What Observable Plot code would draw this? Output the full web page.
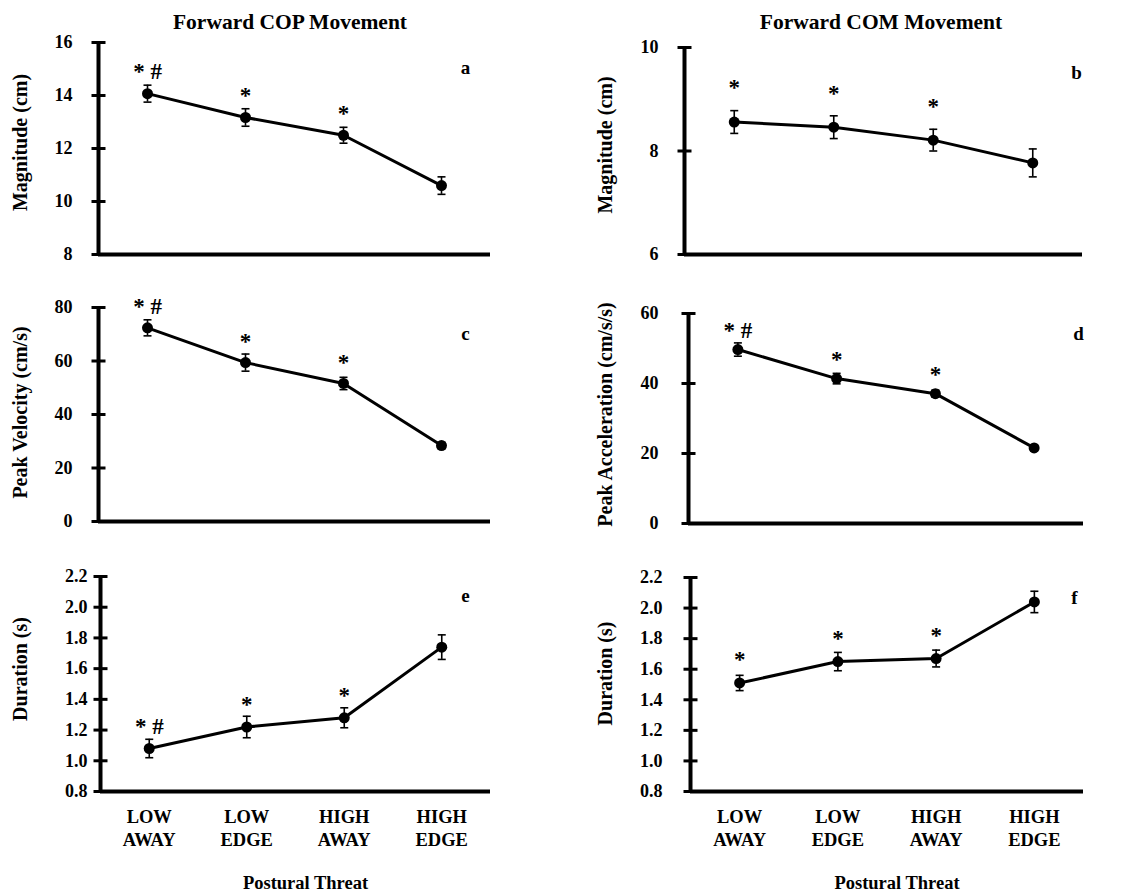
<!DOCTYPE html>
<html>
<head>
<meta charset="utf-8">
<script src="https://cdn.jsdelivr.net/npm/d3@7"></script>
<script src="https://cdn.jsdelivr.net/npm/@observablehq/plot@0.6"></script>
<style>
  body { margin: 0; background: #fff; }
  #page { position: relative; width: 1132px; height: 895px; overflow: hidden;
          font-family: "Liberation Serif", "Times New Roman", serif; font-weight: bold; color: #000; }
  .title { position: absolute; font-size: 21.5px; transform: translate(-50%, -50%); white-space: nowrap; z-index: 2; }
  .panel { position: absolute; }
</style>
</head>
<body>
<div id="page"></div>
<script>
// Postural threat conditions (x axis, shared by all panels)
const categories = ["LOW\nAWAY", "LOW\nEDGE", "HIGH\nAWAY", "HIGH\nEDGE"];
const xAxisTitle = "Postural Threat";
const columnTitles = ["Forward COP Movement", "Forward COM Movement"];

// Means and standard errors per condition
const copMagnitude = [14.07, 13.17, 12.5, 10.6];
const copMagnitudeSE = [0.32, 0.33, 0.3, 0.33];
const comMagnitude = [8.56, 8.46, 8.21, 7.77];
const comMagnitudeSE = [0.22, 0.22, 0.21, 0.27];
const copPeakVelocity = [72.4, 59.4, 51.6, 28.4];
const copPeakVelocitySE = [3.0, 3.2, 2.3, 1.2];
const comPeakAcceleration = [49.7, 41.4, 37.1, 21.6];
const comPeakAccelerationSE = [1.9, 1.5, 1.0, 0.8];
const copDuration = [1.08, 1.22, 1.28, 1.74];
const copDurationSE = [0.06, 0.07, 0.065, 0.08];
const comDuration = [1.51, 1.65, 1.67, 2.04];
const comDurationSE = [0.05, 0.06, 0.055, 0.07];

// Significance markers above each condition
const sigCopMagnitude = ["* #", "*", "*", ""];
const sigComMagnitude = ["*", "*", "*", ""];
const sigCopVelocity = ["* #", "*", "*", ""];
const sigComAcceleration = ["* #", "*", "*", ""];
const sigCopDuration = ["* #", "*", "*", ""];
const sigComDuration = ["*", "*", "*", ""];

// Y-axis tick values
const ticksCopMagnitude = [8, 10, 12, 14, 16];
const ticksComMagnitude = [6, 8, 10];
const ticksCopVelocity = [0, 20, 40, 60, 80];
const ticksComAcceleration = [0, 20, 40, 60];
const ticksDuration = [0.8, 1.0, 1.2, 1.4, 1.6, 1.8, 2.0, 2.2];

const panels = [
  {letter: "a", ylabel: "Magnitude (cm)", values: copMagnitude, se: copMagnitudeSE, sig: sigCopMagnitude, ticks: ticksCopMagnitude, fmt: d3.format("d"),
   svgLeft: 0, axisX: 98, axisRight: 490, top: 42, bottom: 254, pad: 26, labelDy: -6, letterAt: [465, 67], sigOffset: 25},
  {letter: "b", ylabel: "Magnitude (cm)", values: comMagnitude, se: comMagnitudeSE, sig: sigComMagnitude, ticks: ticksComMagnitude, fmt: d3.format("d"),
   svgLeft: 566, axisX: 684, axisRight: 1082, top: 47, bottom: 254, pad: 26, labelDy: -6, letterAt: [1076, 72], sigOffset: 37},
  {letter: "c", ylabel: "Peak Velocity (cm/s)", values: copPeakVelocity, se: copPeakVelocitySE, sig: sigCopVelocity, ticks: ticksCopVelocity, fmt: d3.format("d"),
   svgLeft: 0, axisX: 98, axisRight: 490, top: 307, bottom: 521, pad: 26, labelDy: -2, letterAt: [465, 333], sigOffset: 24},
  {letter: "d", ylabel: "Peak Acceleration (cm/s/s)", values: comPeakAcceleration, se: comPeakAccelerationSE, sig: sigComAcceleration, ticks: ticksComAcceleration, fmt: d3.format("d"),
   svgLeft: 566, axisX: 688, axisRight: 1083, top: 313, bottom: 523, pad: 30, labelDy: -4, letterAt: [1078, 333], sigOffset: 22},
  {letter: "e", ylabel: "Duration (s)", values: copDuration, se: copDurationSE, sig: sigCopDuration, ticks: ticksDuration, fmt: d3.format(".1f"),
   svgLeft: 0, axisX: 100, axisRight: 490, top: 576, bottom: 791, pad: 13, labelDy: -15, letterAt: [465, 595], sigOffset: 25, bottomRow: true},
  {letter: "f", ylabel: "Duration (s)", values: comDuration, se: comDurationSE, sig: sigComDuration, ticks: ticksDuration, fmt: d3.format(".1f"),
   svgLeft: 566, axisX: 690, axisRight: 1083, top: 577, bottom: 791, pad: 28, labelDy: -11, letterAt: [1074, 597], sigOffset: 26, bottomRow: true}
];

// A short horizontal stroke, used for axis ticks and error-bar caps
const hline = {
  draw(ctx, size) {
    const r = Math.sqrt(size / Math.PI);
    ctx.moveTo(-r, 0);
    ctx.lineTo(r, 0);
  }
};

const font = "'Liberation Serif', 'Times New Roman', serif";
const page = document.getElementById("page");

columnTitles.forEach((t, k) => {
  const div = document.createElement("div");
  div.className = "title";
  div.textContent = t;
  div.style.left = (k === 0 ? 290 : 881) + "px";
  div.style.top = "22px";
  page.appendChild(div);
});

for (const p of panels) {
  const rows = categories.map((c, i) => ({i, v: p.values[i], lo: p.values[i] - p.se[i], hi: p.values[i] + p.se[i], sig: p.sig[i]}));
  const mt = 15, mr = 8, mb = p.bottomRow ? 104 : 10;
  const ml = p.axisX - p.svgLeft;
  const width = p.axisRight - p.svgLeft + mr;
  const height = p.bottom - p.top + mt + mb;
  const [yMin, yMax] = d3.extent(p.ticks);

  const marks = [
    // axis lines
    Plot.ruleY([yMin], {stroke: "black", strokeWidth: 4}),
    Plot.ruleX([-0.5], {stroke: "black", strokeWidth: 4}),
    // cross ticks on the y axis
    Plot.dot(p.ticks, {y: d => d, frameAnchor: "left", symbol: hline, r: 7, fill: "none", stroke: "black", strokeWidth: 3}),
    Plot.axisY({ticks: p.ticks, tickFormat: p.fmt, tickSize: 0, tickPadding: p.pad, label: null, fontSize: 18, fontWeight: "bold"}),
    // error bars
    Plot.ruleX(rows, {x: "i", y1: "lo", y2: "hi", stroke: "black", strokeWidth: 1.6}),
    Plot.dot(rows, {x: "i", y: "lo", symbol: hline, r: 4, fill: "none", stroke: "black", strokeWidth: 1.6}),
    Plot.dot(rows, {x: "i", y: "hi", symbol: hline, r: 4, fill: "none", stroke: "black", strokeWidth: 1.6}),
    // mean line and markers
    Plot.line(rows, {x: "i", y: "v", stroke: "black", strokeWidth: 3}),
    Plot.dot(rows, {x: "i", y: "v", r: 5.5, fill: "black"}),
    // significance markers
    Plot.text(rows.filter(d => d.sig), {x: "i", y: "v", text: "sig", dy: -p.sigOffset + 3, fontSize: 23, fontWeight: "bold"}),
    // y-axis title
    Plot.text([p.ylabel], {frameAnchor: "left", textAnchor: "middle", lineAnchor: "middle", rotate: -90,
      dx: (p.svgLeft === 0 ? 20 : 605 - 566) - ml, dy: p.labelDy, fontSize: 20, fontWeight: "bold"}),
    // panel letter
    Plot.text([p.letter], {frameAnchor: "top-right", textAnchor: "middle", lineAnchor: "middle",
      dx: p.letterAt[0] - p.axisRight, dy: p.letterAt[1] - p.top, fontSize: 19, fontWeight: "bold"})
  ];

  if (p.bottomRow) {
    marks.push(
      Plot.axisX({ticks: [0, 1, 2, 3], tickFormat: i => categories[i], tickSize: 0, tickPadding: 15, lineHeight: 1.25, label: null, fontSize: 18.5, fontWeight: "bold"}),
      Plot.text([xAxisTitle], {frameAnchor: "bottom", textAnchor: "middle", lineAnchor: "middle", dx: 10, dy: 92, fontSize: 18.5, fontWeight: "bold"})
    );
  }

  const chart = Plot.plot({
    width, height,
    marginLeft: ml, marginRight: mr, marginTop: mt, marginBottom: mb,
    x: {type: "linear", domain: [-0.5, 3.5], axis: p.bottomRow ? undefined : null},
    y: {domain: [yMin, yMax]},
    style: {fontFamily: font, fontWeight: "bold", color: "black", background: "transparent", overflow: "visible"},
    marks
  });
  const holder = document.createElement("div");
  holder.className = "panel";
  holder.style.left = p.svgLeft + "px";
  holder.style.top = (p.top - mt) + "px";
  holder.appendChild(chart);
  page.appendChild(holder);
}
</script>
</body>
</html>
